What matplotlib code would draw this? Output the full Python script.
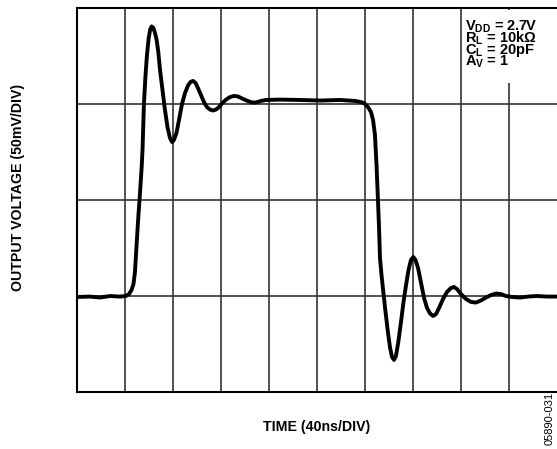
import matplotlib
matplotlib.use("Agg")
import matplotlib.pyplot as plt
from matplotlib.patches import Rectangle

plt.rcParams["font.family"] = ["Liberation Sans", "DejaVu Sans"]
plt.rcParams["mathtext.fontset"] = "custom"
plt.rcParams["mathtext.rm"] = "Liberation Sans:bold"
plt.rcParams["mathtext.bf"] = "Liberation Sans:bold"
plt.rcParams["mathtext.it"] = "Liberation Sans:bold"

# scope trace: time in ns, output in mV (relative)
time_ns = [0, 10.8, 19.2, 27.5, 35.8, 40.8, 43.3, 45.4, 47.1, 48.3, 49.4,
           51.1, 52.5, 53.9, 54.6, 55.8, 57.1, 58.3, 59.75, 61.1, 62.25,
           63.6, 65.0, 66.4, 67.75, 69.2, 71.25, 73.3, 75.4, 77.5, 79.2,
           80.8, 82.9, 85.0, 87.5, 90.0, 92.5, 94.6, 96.7, 98.75, 100.8,
           103.3, 105.8, 108.3, 110.8, 113.3, 115.8, 118.3, 120.8, 124.2,
           127.5, 130.8, 134.2, 137.5, 141.7, 145.8, 149.2, 153.3, 157.5,
           169.2, 185.8, 202.5, 219.2, 231.7, 236.7, 239.6, 242.5, 245.0,
           246.7, 248.3, 249.6, 250.8, 251.7, 252.5, 253.75, 255.25, 257.1,
           259.2, 260.8, 262.5, 264.2, 265.8, 267.75, 270.0, 272.1, 274.2,
           276.25, 278.3, 280.25, 282.1, 284.2, 286.7, 289.2, 291.7, 294.2,
           296.7, 299.2, 302.1, 305.0, 308.3, 311.7, 314.2, 316.7, 320.0,
           324.2, 328.3, 332.5, 336.7, 340.8, 345.0, 349.2, 353.3, 357.5,
           362.5, 369.2, 375.8, 383.3, 391.7, 400.0]
out_mv = [49.5, 49.7, 49.2, 50.0, 49.7, 50.0, 51.0, 53.1, 56.3, 62.5, 74.0,
          91.3, 103.6, 117.3, 126.0, 150.5, 165.1, 175.5, 184.4, 189.1,
          190.4, 189.6, 187.0, 183.3, 177.1, 167.7, 157.3, 146.9, 138.0,
          132.3, 130.2, 131.3, 134.9, 141.7, 150.0, 155.7, 159.6, 161.5,
          162.0, 161.0, 158.3, 154.7, 151.0, 148.4, 147.1, 146.6, 147.1,
          148.4, 150.3, 152.3, 153.6, 154.2, 153.9, 152.9, 151.7, 150.8,
          150.8, 151.6, 152.1, 152.3, 152.1, 151.8, 152.1, 151.6, 151.0,
          150.3, 148.4, 145.8, 141.7, 133.9, 118.2, 100.0, 85.4, 69.8, 60.9,
          52.2, 41.7, 30.7, 23.4, 18.2, 16.7, 18.8, 26.0, 36.5, 46.9, 55.7,
          63.5, 68.75, 70.3, 68.75, 64.6, 56.8, 49.0, 43.75, 40.9, 39.6,
          40.6, 44.3, 48.4, 52.1, 54.2, 54.7, 53.6, 51.0, 48.4, 46.9, 46.6,
          47.7, 49.2, 50.5, 51.3, 51.0, 50.0, 49.5, 49.2, 49.7, 50.0, 49.7,
          49.7]

conditions = [r"V$_{\mathbf{DD}}$ = 2.7V",
              r"R$_{\mathbf{L}}$ = 10kΩ",
              r"C$_{\mathbf{L}}$ = 20pF",
              r"A$_{\mathbf{V}}$ = 1"]

W, H = 557, 449
fig = plt.figure(figsize=(W / 100, H / 100), dpi=100)
ax = fig.add_axes([77 / W, 57 / H, 480 / W, 384 / H])

ax.set_xlim(0, 400)
ax.set_ylim(0, 200)
ax.set_xticks(range(40, 400, 40))
ax.set_yticks(range(50, 200, 50))
ax.tick_params(length=0, labelbottom=False, labelleft=False)
ax.grid(True, color="#333333", lw=1.2)
ax.set_axisbelow(True)
for s in ax.spines.values():
    s.set_linewidth(1.5)
ax.spines["right"].set_visible(False)

ax.plot(time_ns, out_mv, color="black", lw=2.8, solid_joinstyle="round",
        solid_capstyle="round")

# white patch behind the test conditions (grid line is hidden there)
ax.add_patch(Rectangle((0.802, 0.805), 0.196, 0.19, transform=ax.transAxes,
                       facecolor="white", edgecolor="none", zorder=3))
fig.text(465 / W, 1 - 18.5 / H, "\n".join(conditions), ha="left", va="top",
         fontsize=10.5, fontweight="bold", linespacing=0.57, zorder=4)

fig.text(18 / W, 1 - 187 / H, "OUTPUT VOLTAGE (50mV/DIV)", rotation=90,
         ha="center", va="center", fontsize=10.2, fontweight="bold")
fig.text(317 / W, 1 - 427 / H, "TIME (40ns/DIV)",
         ha="center", va="center", fontsize=10.2, fontweight="bold")
fig.text(550 / W, 1 - 418 / H, "05890-031", rotation=90,
         ha="center", va="center", fontsize=8)

fig.savefig("out.png", dpi=100)
